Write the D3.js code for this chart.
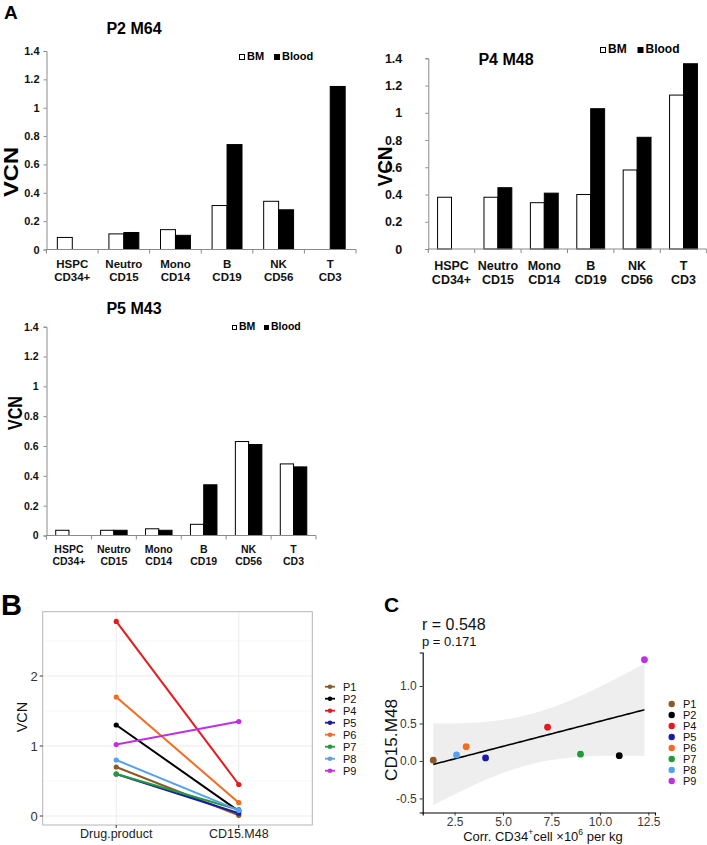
<!DOCTYPE html>
<html><head><meta charset="utf-8">
<script src="https://cdn.jsdelivr.net/npm/d3@7"></script>
<style>body{margin:0;background:#fff}svg{display:block;font-family:"Liberation Sans",Arial,sans-serif}</style>
</head><body><svg id="c" width="707" height="845"></svg>
<script>
// ---------- DATA ----------
const cellLine1 = ["HSPC", "Neutro", "Mono", "B", "NK", "T"];
const cellLine2 = ["CD34+", "CD15", "CD14", "CD19", "CD56", "CD3"];
const vcnTicks = [0, 0.2, 0.4, 0.6, 0.8, 1, 1.2, 1.4];
const seriesNames = ["BM", "Blood"];

const p2m64BM    = [0.085, 0.11, 0.14, 0.31, 0.34, null];
const p2m64Blood = [null, 0.12, 0.10, 0.74, 0.28, 1.15];
const p4m48BM    = [0.38, 0.38, 0.34, 0.40, 0.58, 1.13];
const p4m48Blood = [null, 0.45, 0.41, 1.03, 0.82, 1.36];
const p5m43BM    = [0.035, 0.035, 0.045, 0.075, 0.63, 0.48];
const p5m43Blood = [null, 0.035, 0.035, 0.34, 0.61, 0.46];

const patients = ["P1", "P2", "P4", "P5", "P6", "P7", "P8", "P9"];
const patientColors = ["#8B5A2B", "#000000", "#E41A1C", "#1A1AA6", "#F26B21", "#229A3A", "#56A0EC", "#C02FE0"];
const timepoints = ["Drug.product", "CD15.M48"];
const vcnDrugProduct = [0.70, 1.30, 2.78, 0.60, 1.70, 0.60, 0.80, 1.02];
const vcnCD15M48     = [0.01, 0.07, 0.45, 0.04, 0.19, 0.09, 0.08, 1.35];
const corrCD34       = [1.4, 11.0, 7.3, 4.1, 3.1, 9.0, 2.6, 12.3];
const bYTicks = [0, 1, 2];
const cXTicks = [2.5, 5.0, 7.5, 10.0, 12.5];
const cYTicks = [-0.5, 0.0, 0.5, 1.0];
const corrText = "r = 0.548";
const pText = "p = 0.171";

// ---------- DRAW ----------
const svg = d3.select("#c");
const F = '"Liberation Sans", Arial, sans-serif';

function barChart(o) {
  const g = svg.append("g");
  const x = d3.scaleBand().domain(d3.range(cellLine1.length)).range([o.left, o.right])
    .paddingInner(o.pad).paddingOuter(o.pad / 2);
  const xs = d3.scaleBand().domain([0, 1]).range([0, x.bandwidth()]);
  const y = d3.scaleLinear().domain([0, 1.4]).range([o.y0, o.y1]);
  const axisCol = "#8a8a8a";

  // y axis
  const ya = g.append("g").attr("transform", `translate(${o.left},0)`)
    .call(d3.axisLeft(y).tickValues(vcnTicks).tickSize(3).tickPadding(o.tickPad).tickFormat(d3.format("~g")));
  ya.select(".domain").attr("stroke", axisCol);
  ya.selectAll(".tick line").attr("stroke", axisCol);
  ya.selectAll("text").attr("font-family", F).attr("font-weight", "bold")
    .attr("font-size", o.tickFont).attr("fill", "#111");

  // bars
  const series = [o.bm, o.blood];
  series.forEach((vals, s) => {
    g.append("g").selectAll("rect").data(vals.map((v, i) => ({v, i})).filter(d => d.v != null))
      .join("rect")
      .attr("x", d => x(d.i) + xs(s))
      .attr("width", xs.bandwidth())
      .attr("y", d => y(d.v))
      .attr("height", d => y(0) - y(d.v))
      .attr("fill", s === 0 ? "#fff" : "#000")
      .attr("stroke", "#000").attr("stroke-width", 1);
  });

  // x axis (ticks at category boundaries)
  const step = x.step();
  g.append("line").attr("x1", o.left).attr("x2", o.right).attr("y1", o.y0).attr("y2", o.y0)
    .attr("stroke", axisCol);
  g.append("g").selectAll("line").data(d3.range(cellLine1.length + 1)).join("line")
    .attr("x1", i => o.left + i * step).attr("x2", i => o.left + i * step)
    .attr("y1", o.y0).attr("y2", o.y0 + 4).attr("stroke", axisCol);

  const cl = g.append("g").selectAll("text").data(d3.range(cellLine1.length)).join("text")
    .attr("text-anchor", "middle").attr("font-weight", "bold").attr("font-size", o.catFont)
    .attr("fill", "#111");
  cl.append("tspan").attr("x", i => x(i) + x.bandwidth() / 2).attr("y", o.cat1).text(i => cellLine1[i]);
  cl.append("tspan").attr("x", i => x(i) + x.bandwidth() / 2).attr("y", o.cat2).text(i => cellLine2[i]);

  // title
  g.append("text").attr("x", o.titleX).attr("y", o.titleY).attr("text-anchor", "middle")
    .attr("font-weight", "bold").attr("font-size", 16).text(o.title);

  // y label
  g.append("text").attr("transform", `translate(${o.vcnX},${o.vcnY}) rotate(-90)`)
    .attr("text-anchor", "middle").attr("dominant-baseline", "central")
    .attr("font-weight", "bold").attr("font-size", 20)
    .attr("textLength", o.vcnLen).attr("lengthAdjust", "spacingAndGlyphs").text("VCN");

  // legend
  const lg = g.append("g").attr("transform", `translate(${o.legX},${o.legY})`);
  const sq = o.legSq;
  lg.append("rect").attr("x", 0.5).attr("y", -sq + 0.5).attr("width", sq - 1).attr("height", sq - 1)
    .attr("fill", "#fff").attr("stroke", "#000");
  lg.append("text").attr("x", sq + 2).attr("y", 0).attr("font-weight", "bold").attr("font-size", o.legFont).text(seriesNames[0]);
  lg.append("rect").attr("x", o.legGap).attr("y", -sq).attr("width", sq).attr("height", sq).attr("fill", "#000");
  lg.append("text").attr("x", o.legGap + sq + 2).attr("y", 0).attr("font-weight", "bold").attr("font-size", o.legFont).text(seriesNames[1]);
}

barChart({title: "P2 M64", bm: p2m64BM, blood: p2m64Blood, left: 46.5, right: 356, y0: 249.5, y1: 51,
  pad: 0.42, tickPad: 4, tickFont: 11, catFont: 11.5, cat1: 267.5, cat2: 281,
  titleX: 134, titleY: 33.5, vcnX: 11, vcnY: 172, vcnLen: 50,
  legX: 239, legY: 60, legSq: 6, legFont: 11, legGap: 35});

barChart({title: "P4 M48", bm: p4m48BM, blood: p4m48Blood, left: 428.3, right: 706.7, y0: 249, y1: 58.3,
  pad: 0.40, tickPad: 23, tickFont: 12.5, catFont: 12.5, cat1: 269.5, cat2: 284,
  titleX: 506, titleY: 65, vcnX: 385, vcnY: 166.5, vcnLen: 40,
  legX: 600, legY: 53, legSq: 6, legFont: 12, legGap: 37.5});

barChart({title: "P5 M43", bm: p5m43BM, blood: p5m43Blood, left: 46.5, right: 316, y0: 535.5, y1: 326.7,
  pad: 0.41, tickPad: 5, tickFont: 10.5, catFont: 10.5, cat1: 553, cat2: 565,
  titleX: 134, titleY: 314, vcnX: 14.5, vcnY: 413, vcnLen: 34,
  legX: 232, legY: 330, legSq: 5, legFont: 10.5, legGap: 32});

// panel letters
svg.append("text").attr("x", 4).attr("y", 18.5).attr("font-weight", "bold").attr("font-size", 19).text("A");
svg.append("text").attr("x", 1).attr("y", 615).attr("font-weight", "bold").attr("font-size", 29).text("B");
svg.append("text").attr("x", 384).attr("y", 612).attr("font-weight", "bold").attr("font-size", 21).text("C");

// ---------- Panel B ----------
(function () {
  const L = 42.7, R = 312.3, T = 611.7, Bt = 825;
  const g = svg.append("g");
  const allV = vcnDrugProduct.concat(vcnCD15M48);
  const ext = d3.extent(allV); const e = (ext[1] - ext[0]) * 0.05;
  const y = d3.scaleLinear().domain([ext[0] - e, ext[1] + e]).range([Bt, T]);
  const xi = d3.scaleLinear().domain([0.4, 2.6]).range([L, R]);
  const xp = i => xi(i + 1);

  // grid
  const minor = [0.5, 1.5, 2.5];
  g.selectAll(".mn").data(minor).join("line").attr("x1", L).attr("x2", R)
    .attr("y1", d => y(d)).attr("y2", d => y(d)).attr("stroke", "#f3f3f3").attr("stroke-width", 0.6);
  g.selectAll(".mj").data(bYTicks).join("line").attr("x1", L).attr("x2", R)
    .attr("y1", d => y(d)).attr("y2", d => y(d)).attr("stroke", "#ebebeb").attr("stroke-width", 1);
  g.selectAll(".vj").data(timepoints).join("line").attr("x1", (d, i) => xp(i)).attr("x2", (d, i) => xp(i))
    .attr("y1", T).attr("y2", Bt).attr("stroke", "#ebebeb").attr("stroke-width", 1);
  g.append("rect").attr("x", L).attr("y", T).attr("width", R - L).attr("height", Bt - T)
    .attr("fill", "none").attr("stroke", "#b5b5b5").attr("stroke-width", 1);

  // axes ticks & labels
  g.selectAll(".yt").data(bYTicks).join("line").attr("x1", L - 3).attr("x2", L)
    .attr("y1", d => y(d)).attr("y2", d => y(d)).attr("stroke", "#333");
  g.selectAll(".yl").data(bYTicks).join("text").attr("x", L - 5).attr("y", d => y(d))
    .attr("dy", "0.35em").attr("text-anchor", "end").attr("font-size", 13).attr("fill", "#333").text(d => d);
  g.selectAll(".xt").data(timepoints).join("line").attr("x1", (d, i) => xp(i)).attr("x2", (d, i) => xp(i))
    .attr("y1", Bt).attr("y2", Bt + 3).attr("stroke", "#333");
  g.selectAll(".xl").data(timepoints).join("text").attr("x", (d, i) => xp(i)).attr("y", 838)
    .attr("text-anchor", "middle").attr("font-size", 12.5).attr("fill", "#222").text(d => d);
  g.append("text").attr("transform", `translate(22,717) rotate(-90)`).attr("text-anchor", "middle")
    .attr("dominant-baseline", "central").attr("font-size", 14.5).attr("fill", "#111").text("VCN");

  // lines
  patients.forEach((p, i) => {
    const pts = [[xp(0), y(vcnDrugProduct[i])], [xp(1), y(vcnCD15M48[i])]];
    g.append("path").attr("d", d3.line()(pts)).attr("stroke", patientColors[i])
      .attr("stroke-width", 2).attr("fill", "none");
    g.selectAll(null).data(pts).join("circle").attr("cx", d => d[0]).attr("cy", d => d[1])
      .attr("r", 2.6).attr("fill", patientColors[i]);
  });

  // legend
  const lg = g.append("g");
  patients.forEach((p, i) => {
    const yy = 686.7 + i * 12;
    lg.append("line").attr("x1", 325).attr("x2", 335).attr("y1", yy).attr("y2", yy)
      .attr("stroke", patientColors[i]).attr("stroke-width", 1.8);
    lg.append("circle").attr("cx", 330).attr("cy", yy).attr("r", 2.3).attr("fill", patientColors[i]);
    lg.append("text").attr("x", 343).attr("y", yy).attr("dy", "0.36em").attr("font-size", 11)
      .attr("fill", "#111").text(p);
  });
})();

// ---------- Panel C ----------
(function () {
  const L = 422.7, R = 655, T = 652.5, Bt = 812.5;
  const g = svg.append("g");
  const n = corrCD34.length;
  const mx = d3.mean(corrCD34), my = d3.mean(vcnCD15M48);
  const sxx = d3.sum(corrCD34, v => (v - mx) ** 2);
  const sxy = d3.sum(corrCD34.map((v, i) => (v - mx) * (vcnCD15M48[i] - my)));
  const slope = sxy / sxx, icpt = my - slope * mx;
  const sse = d3.sum(corrCD34.map((v, i) => (vcnCD15M48[i] - (icpt + slope * v)) ** 2));
  const s = Math.sqrt(sse / (n - 2));
  const tq = 2.446912; // t(0.975, df = 6)
  const xe = d3.extent(corrCD34);
  const grid = d3.range(0, 81).map(k => xe[0] + (xe[1] - xe[0]) * k / 80);
  const band = grid.map(xv => {
    const fit = icpt + slope * xv;
    const se = s * Math.sqrt(1 / n + (xv - mx) ** 2 / sxx);
    return {x: xv, fit, lo: fit - tq * se, hi: fit + tq * se};
  });
  const yAll = vcnCD15M48.concat(band.map(d => d.lo), band.map(d => d.hi));
  const ye = d3.extent(yAll), ey = (ye[1] - ye[0]) * 0.05;
  const ex = (xe[1] - xe[0]) * 0.05;
  const x = d3.scaleLinear().domain([xe[0] - ex, xe[1] + ex]).range([L, R]);
  const y = d3.scaleLinear().domain([ye[0] - ey, ye[1] + ey]).range([Bt, T]);

  g.append("path").datum(band).attr("d", d3.area().x(d => x(d.x)).y0(d => y(d.lo)).y1(d => y(d.hi)))
    .attr("fill", "#ebebeb").attr("opacity", 0.85);
  g.append("path").datum(band).attr("d", d3.line().x(d => x(d.x)).y(d => y(d.fit)))
    .attr("stroke", "#000").attr("stroke-width", 1.6).attr("fill", "none");

  // axes
  const xa = g.append("g").attr("transform", `translate(0,${Bt})`)
    .call(d3.axisBottom(x).tickValues(cXTicks).tickSize(3).tickPadding(1.5).tickFormat(d3.format(".1f")));
  const ya = g.append("g").attr("transform", `translate(${L},0)`)
    .call(d3.axisLeft(y).tickValues(cYTicks).tickSize(3).tickPadding(3).tickFormat(d3.format(".1f")));
  [xa, ya].forEach(a => {
    a.select(".domain").attr("stroke", "#000").attr("stroke-width", 1.1);
    a.selectAll(".tick line").attr("stroke", "#333");
    a.selectAll("text").attr("font-family", F).attr("font-size", 12).attr("fill", "#3a3a3a");
  });
  ya.selectAll("text").text(d => d < 0 ? "-" + Math.abs(d).toFixed(1) : d.toFixed(1));

  // points
  g.selectAll(".pt").data(patients).join("circle")
    .attr("cx", (d, i) => x(corrCD34[i])).attr("cy", (d, i) => y(vcnCD15M48[i]))
    .attr("r", 3.4).attr("fill", (d, i) => patientColors[i]);

  // labels
  g.append("text").attr("transform", `translate(391,740) rotate(-90)`).attr("text-anchor", "middle")
    .attr("dominant-baseline", "central").attr("font-size", 16).attr("fill", "#111")
    .attr("textLength", 82).attr("lengthAdjust", "spacingAndGlyphs").text("CD15.M48");
  const xl = g.append("text").attr("x", 543).attr("y", 840.5).attr("text-anchor", "middle")
    .attr("font-size", 13).attr("fill", "#111");
  xl.append("tspan").text("Corr. CD34");
  xl.append("tspan").attr("font-size", 8.5).attr("dy", -5.5).text("+");
  xl.append("tspan").attr("dy", 5.5).text("cell \u00d710");
  xl.append("tspan").attr("font-size", 8.5).attr("dy", -5.5).text("6");
  xl.append("tspan").attr("dy", 5.5).text(" per kg");

  g.append("text").attr("x", 422).attr("y", 629.5).attr("font-size", 16).attr("fill", "#111").text(corrText);
  g.append("text").attr("x", 422).attr("y", 645.5).attr("font-size", 13).attr("fill", "#111").text(pText);

  // legend
  patients.forEach((p, i) => {
    const yy = 704 + i * 11;
    g.append("circle").attr("cx", 671.7).attr("cy", yy).attr("r", 3.2).attr("fill", patientColors[i]);
    g.append("text").attr("x", 683).attr("y", yy).attr("dy", "0.36em").attr("font-size", 11)
      .attr("fill", "#111").text(p);
  });
})();
</script></body></html>
